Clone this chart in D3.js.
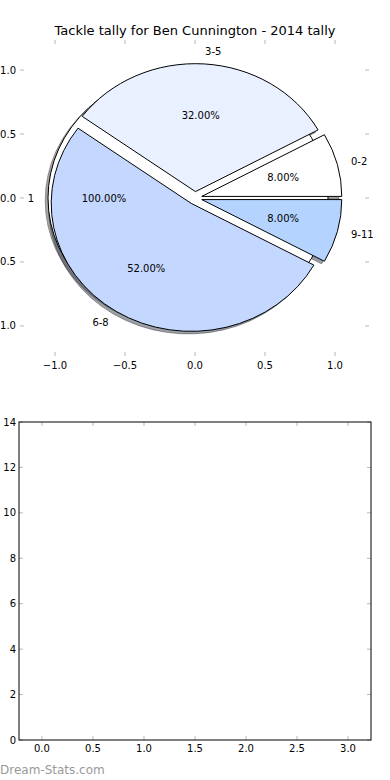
<!DOCTYPE html>
<html>
<head>
<meta charset="utf-8">
<script src="https://cdn.jsdelivr.net/npm/d3@7"></script>
<style>
  html, body { margin: 0; padding: 0; background: #ffffff; }
  svg { display: block; }
  text { font-family: "DejaVu Sans", sans-serif; fill: #000; }
</style>
</head>
<body>
<div id="chart"></div>
<script>
// ---------------- data ----------------
const chartTitle = "Tackle tally for Ben Cunnington - 2014 tally";
const pieCategories = ["0-2", "3-5", "6-8", "9-11"];
const pieValues = [8, 32, 52, 8];
const pieColors = ["#ffffff", "#e9f0ff", "#c4d8ff", "#b4d4ff"];
const backCategories = ["1"];
const backValues = [1];
const backColors = ["#ffffff"];
const explodeAmount = 0.05;
const pieXTicks = [-1.0, -0.5, 0.0, 0.5, 1.0];
const pieYTicks = [-1.0, -0.5, 0.0, 0.5, 1.0];
const barCategories = [];
const barValues = [];
const barXTicks = [0.0, 0.5, 1.0, 1.5, 2.0, 2.5, 3.0];
const barYTicks = [0, 2, 4, 6, 8, 10, 12, 14];
const watermark = "Dream-Stats.com";

// ---------------- layout ----------------
const W = 390, H = 780;
const svg = d3.select("#chart").append("svg").attr("width", W).attr("height", H);

const fmtTick = v => d3.format(".1f")(v).replace("-", "\u2212");

// ---- pie axes ----
const px = d3.scaleLinear().domain([-1.25, 1.25]).range([20, 370]);
const py = d3.scaleLinear().domain([-1.235, 1.235]).range([356, 40]);
const kx = px(1) - px(0), ky = py(0) - py(1);
const tickColor = "#b8b8b8";

svg.append("text").attr("x", 195).attr("y", 30).attr("dy", "0.35em")
  .attr("text-anchor", "middle").style("font-size", "13px").text(chartTitle);

// ticks of pie axes (no spines)
const pieTicks = svg.append("g");
pieXTicks.forEach(t => {
  pieTicks.append("line").attr("x1", px(t)).attr("x2", px(t)).attr("y1", py.range()[1]).attr("y2", py.range()[1] + 4)
    .attr("stroke", tickColor);
  pieTicks.append("line").attr("x1", px(t)).attr("x2", px(t)).attr("y1", py.range()[0]).attr("y2", py.range()[0] - 4)
    .attr("stroke", tickColor);
  pieTicks.append("text").attr("x", px(t)).attr("y", 365).attr("dy", "0.35em").attr("text-anchor", "middle")
    .style("font-size", "10px").text(fmtTick(t));
});
pieYTicks.forEach(t => {
  pieTicks.append("line").attr("x1", px.range()[0]).attr("x2", px.range()[0] + 4).attr("y1", py(t)).attr("y2", py(t))
    .attr("stroke", tickColor);
  pieTicks.append("line").attr("x1", px.range()[1] - 1).attr("x2", px.range()[1] - 5).attr("y1", py(t)).attr("y2", py(t))
    .attr("stroke", tickColor);
  pieTicks.append("text").attr("x", 16).attr("y", py(t)).attr("dy", "0.35em").attr("text-anchor", "end")
    .style("font-size", "10px").text(fmtTick(t));
});

function pieLayout(values, labels, colors) {
  const arcs = d3.pie().sort(null).startAngle(0).endAngle(2 * Math.PI)(values);
  const total = d3.sum(values);
  return arcs.map((a, i) => {
    const t1 = a.startAngle, t2 = a.endAngle;   // matplotlib style: CCW from 3 o'clock
    const tm = (t1 + t2) / 2;
    return {
      t1, t2, tm,
      cx: explodeAmount * Math.cos(tm), cy: explodeAmount * Math.sin(tm),
      color: colors[i % colors.length], label: labels[i],
      pct: 100 * values[i] / total
    };
  });
}
const backPie = pieLayout(backValues, backCategories, backColors);
const frontPie = pieLayout(pieValues, pieCategories, pieColors);
const arcGen = d3.arc().innerRadius(0).outerRadius(1);
const wedgePath = w => arcGen({ startAngle: Math.PI / 2 - w.t2, endAngle: Math.PI / 2 - w.t1 });
const shade = c => { const r = d3.rgb(c); return d3.rgb(r.r * 0.3, r.g * 0.3, r.b * 0.3).toString(); };

const pieG = svg.append("g");
// shadows (drawn below all wedges)
[...backPie, ...frontPie].forEach(w => {
  pieG.append("path").attr("d", wedgePath(w))
    .attr("transform", `translate(${px(w.cx - 0.02)},${py(w.cy - 0.02)}) scale(${kx},${ky})`)
    .attr("fill", shade(w.color)).attr("fill-opacity", 0.5)
    .attr("stroke", shade(w.color)).attr("stroke-opacity", 0.5)
    .attr("stroke-width", 1).attr("vector-effect", "non-scaling-stroke");
});
// wedges
[...backPie, ...frontPie].forEach(w => {
  pieG.append("path").attr("d", wedgePath(w))
    .attr("transform", `translate(${px(w.cx)},${py(w.cy)}) scale(${kx},${ky})`)
    .attr("fill", w.color).attr("stroke", "#000")
    .attr("stroke-width", 1).attr("vector-effect", "non-scaling-stroke");
});
// labels
[...backPie, ...frontPie].forEach(w => {
  const xt = w.cx + 1.1 * Math.cos(w.tm), yt = w.cy + 1.1 * Math.sin(w.tm);
  pieG.append("text").attr("x", px(xt)).attr("y", py(yt)).attr("dy", "0.35em")
    .attr("text-anchor", xt > 0 ? "start" : "end").style("font-size", "10px").text(w.label);
  const xp = w.cx + 0.6 * Math.cos(w.tm), yp = w.cy + 0.6 * Math.sin(w.tm);
  pieG.append("text").attr("x", px(xp)).attr("y", py(yp)).attr("dy", "0.35em")
    .attr("text-anchor", "middle").style("font-size", "10px").text(d3.format(".2f")(w.pct) + "%");
});

// ---- bar axes (empty) ----
const bx = d3.scaleLinear().domain([-0.225, 3.225]).range([19, 371]);
const by = d3.scaleLinear().domain([0, 14]).range([740, 422]);
const barG = svg.append("g");
barG.selectAll("rect.bar").data(barValues).join("rect").attr("class", "bar")
  .attr("x", (d, i) => bx(i - 0.2)).attr("width", bx(0.4) - bx(0))
  .attr("y", d => by(d)).attr("height", d => by(0) - by(d)).attr("fill", "#c4d8ff");
barXTicks.forEach(t => {
  barG.append("line").attr("x1", bx(t)).attr("x2", bx(t)).attr("y1", by(14)).attr("y2", by(14) + 4).attr("stroke", tickColor);
  barG.append("line").attr("x1", bx(t)).attr("x2", bx(t)).attr("y1", by(0)).attr("y2", by(0) - 4).attr("stroke", tickColor);
  barG.append("text").attr("x", bx(t)).attr("y", 748).attr("dy", "0.35em").attr("text-anchor", "middle")
    .style("font-size", "10px").text(d3.format(".1f")(t));
});
barYTicks.forEach(t => {
  barG.append("line").attr("x1", bx.range()[0]).attr("x2", bx.range()[0] + 4).attr("y1", by(t)).attr("y2", by(t)).attr("stroke", tickColor);
  barG.append("line").attr("x1", bx.range()[1]).attr("x2", bx.range()[1] - 4).attr("y1", by(t)).attr("y2", by(t)).attr("stroke", tickColor);
  barG.append("text").attr("x", 16).attr("y", by(t)).attr("dy", "0.35em").attr("text-anchor", "end")
    .style("font-size", "10px").text(String(t));
});
barG.append("rect").attr("x", bx.range()[0]).attr("y", by(14))
  .attr("width", bx.range()[1] - bx.range()[0]).attr("height", by(0) - by(14))
  .attr("fill", "none").attr("stroke", "#000").attr("stroke-width", 1);

svg.append("text").attr("x", 0).attr("y", 770).attr("dy", "0.35em")
  .style("font-size", "12px").style("font-weight", "normal").style("fill", "#999999").text(watermark);
</script>
</body>
</html>
